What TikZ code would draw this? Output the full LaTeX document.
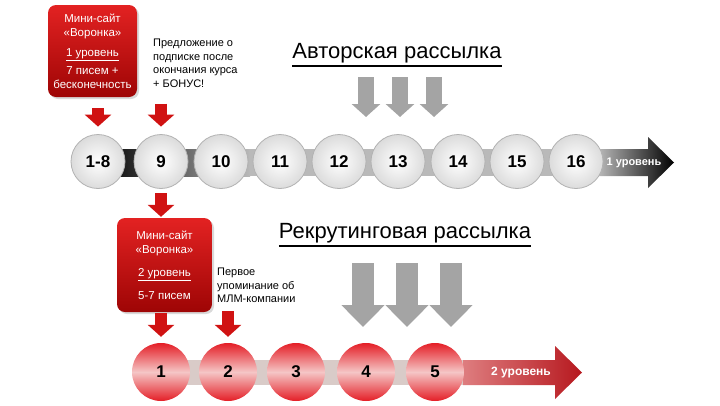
\documentclass[tikz,border=0pt]{standalone}
\usepackage{fontspec}
\setmainfont{Liberation Sans}
\usetikzlibrary{arrows.meta,shadows,calc}
\definecolor{boxtop}{HTML}{E32222}
\definecolor{boxbot}{HTML}{9E0505}
\definecolor{arred}{HTML}{D01212}
\definecolor{garr}{HTML}{A4A4A4}
\definecolor{rcirc}{HTML}{E41E26}
\definecolor{rmid}{HTML}{F5C6C6}
\definecolor{pband}{HTML}{D9CBC8}
\begin{document}
\begin{tikzpicture}[x=1pt,y=-1pt,
  redbox/.style={rounded corners=8pt, top color=boxtop, bottom color=boxbot,
    text=white, align=center, inner sep=0pt,
    drop shadow={opacity=0.3, shadow xshift=2pt, shadow yshift=-2pt}},
  gcirc/.style={circle, minimum size=54pt, inner sep=0pt, draw=gray!60, line width=0.8pt,
    inner color=white, outer color=gray!28,
    font=\fontsize{17}{17}\selectfont\bfseries},
  rcircs/.style={circle, minimum size=58pt, inner sep=0pt,
    top color=rcirc, bottom color=rcirc, middle color=rmid,
    font=\fontsize{17}{17}\selectfont\bfseries},
  redarr/.style={arred, line width=12pt, -{Triangle[width=26pt,length=12pt]}},
  grayarrA/.style={garr, line width=16pt, -{Triangle[width=28pt,length=13pt]}},
  grayarrB/.style={garr, line width=22pt, -{Triangle[width=42pt,length=22pt]}},
  sidetext/.style={align=left, inner sep=0pt, font=\fontsize{11}{13.5}\selectfont},
  title/.style={inner sep=0pt, font=\fontsize{22}{22}\selectfont},
  boxtext/.style={font=\fontsize{11.5}{14}\selectfont}
]
\useasboundingbox (0,0) rectangle (720,405);

% ---- level 1 band and arrow
\shade[left color=black, right color=gray!55] (100,149) rectangle (250,176);
\fill[gray!55] (250,149) rectangle (600,176);
\shade[left color=gray!55, right color=black]
  (598,149) -- (648,149) -- (648,137) -- (674,162.5) -- (648,188) -- (648,176) -- (598,176) -- cycle;
\node[text=white, font=\fontsize{11}{11}\selectfont\bfseries] (lvl1) at (634,162.5) {1 уровень};

% ---- level 1 circles
\foreach \x/\t [count=\i] in {98/1-8,161/9,221/10,280/11,339/12,398/13,458/14,517/15,576/16}
  \node[gcirc] (c\i) at (\x,161.5) {\t};

% ---- level 2 band and arrow
\fill[pband] (150,360) rectangle (470,385);
\shade[left color=rcirc!45!pband, right color=rcirc!80!black]
  (463,360) -- (555,360) -- (555,346) -- (582,372.5) -- (555,399) -- (555,385) -- (463,385) -- cycle;
\node[text=white, font=\fontsize{12}{12}\selectfont\bfseries] (lvl2) at (521,373) {2 уровень};

% ---- level 2 circles
\foreach \x/\t [count=\i] in {161/1,228/2,296/3,366/4,435/5}
  \node[rcircs] (r\i) at (\x,372) {\t};

% ---- boxes
\node[redbox, minimum width=89pt, minimum height=92pt, boxtext] (box1) at (92.5,51)
  {Мини-сайт\\«Воронка»\\[6pt]\underline{1 уровень}\\[4pt]7 писем +\\бесконечность};
\node[redbox, minimum width=95pt, minimum height=94pt, boxtext] (box2) at (164.5,265)
  {Мини-сайт\\«Воронка»\\[9pt]\underline{2 уровень}\\[9pt]5-7 писем};

% ---- side texts
\node[sidetext, anchor=north west] (offer) at (153,39)
  {Предложение о\\подписке после\\окончания курса\\+ БОНУС!};
\node[sidetext, anchor=north west] (first) at (217,268)
  {Первое\\упоминание об\\МЛМ-компании};

% ---- titles
\node[title] (t1) at (397,53) {Авторская рассылка};
\draw[line width=2pt] ([yshift=-3pt]t1.south west) -- ([yshift=-3pt]t1.south east);
\node[title] (t2) at (405,233) {Рекрутинговая рассылка};
\draw[line width=2pt] ([yshift=-3pt]t2.south west) -- ([yshift=-3pt]t2.south east);

% ---- red arrows
\draw[redarr, shorten <=11pt, shorten >=7.5pt] (box1.south -| c1) -- (c1.north);
\draw[redarr, shorten <=16pt, shorten >=7.5pt] (offer.south -| c2) -- (c2.north);
\draw[redarr, shorten <=4.5pt, shorten >=1pt] (c2.south) -- (box2.north -| c2);
\draw[redarr, shorten <=1pt, shorten >=6pt] (box2.south -| r1) -- (r1.north);
\draw[redarr, shorten <=8pt, shorten >=6pt] (first.south -| r2) -- (r2.north);

% ---- gray arrows
\foreach \x [count=\i] in {366,400,434} {
  \coordinate (ga\i) at (\x,77);
  \coordinate (gae\i) at (\x,117);
  \draw[grayarrA] (ga\i) -- (gae\i);
}
\foreach \x [count=\i] in {363,407,451} {
  \coordinate (gb\i) at (\x,263);
  \coordinate (gbe\i) at (\x,327);
  \draw[grayarrB] (gb\i) -- (gbe\i);
}
\end{tikzpicture}
\end{document}
